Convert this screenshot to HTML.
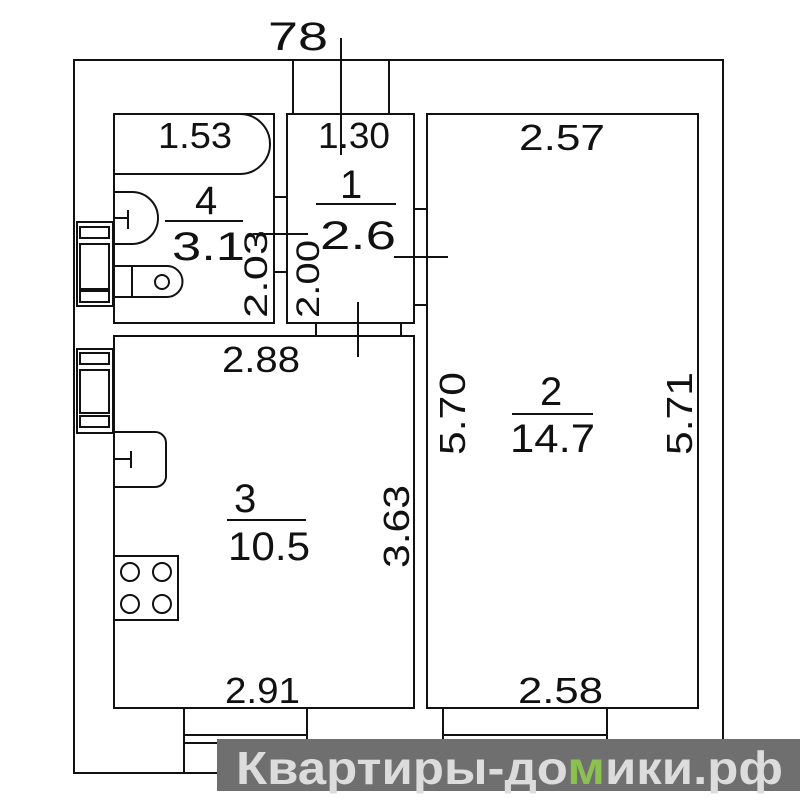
<!DOCTYPE html>
<html><head><meta charset="utf-8"><style>body{margin:0;background:#fff}svg{display:block}</style></head>
<body>
<svg width="800" height="800" xmlns="http://www.w3.org/2000/svg" font-family="Liberation Sans, sans-serif">
<rect width="800" height="800" fill="#fff"/>
<g fill="none" stroke="#111" stroke-width="2">
<rect x="74" y="60" width="649" height="713"/>
<rect x="114" y="114" width="160" height="209"/>
<rect x="287" y="114" width="127" height="209"/>
<rect x="427" y="114" width="271" height="594"/>
<rect x="114" y="336" width="300" height="372"/>
<line x1="293" y1="60" x2="293" y2="114"/><line x1="389" y1="60" x2="389" y2="114"/>
<line x1="341" y1="38" x2="341" y2="155"/>
<line x1="274" y1="197" x2="287" y2="197"/><line x1="274" y1="272" x2="287" y2="272"/>
<line x1="253" y1="234" x2="308" y2="234"/>
<line x1="414" y1="209" x2="427" y2="209"/><line x1="414" y1="305" x2="427" y2="305"/>
<line x1="394" y1="257" x2="448" y2="257"/>
<line x1="316" y1="323" x2="316" y2="336"/><line x1="401" y1="323" x2="401" y2="336"/>
<line x1="358" y1="302" x2="358" y2="357"/>
<path d="M114 174 H240 A30 30 0 0 0 240 114"/>
<path d="M114 192 H132 A26 26 0 0 1 132 244 H114"/><line x1="115" y1="218" x2="128" y2="218"/><line x1="128" y1="210" x2="128" y2="229"/>
<path d="M114 266 H167 A14 14 0 0 1 167 297 H114"/><line x1="132" y1="266" x2="132" y2="297"/><circle cx="162" cy="282" r="7"/>
<rect x="77" y="222" width="36" height="84"/><rect x="80" y="227" width="29" height="11"/><rect x="80" y="244" width="29" height="45"/><rect x="80" y="291" width="29" height="11"/>
<rect x="77" y="349" width="36" height="84"/><rect x="80" y="353" width="29" height="11"/><rect x="80" y="370" width="29" height="43"/><rect x="80" y="416" width="29" height="11"/>
<path d="M114 432 H155 A11 11 0 0 1 166 443 V475 A11 11 0 0 1 155 487 H114"/><line x1="115" y1="459" x2="131" y2="459"/><line x1="131" y1="451" x2="131" y2="468"/>
<rect x="114" y="556" width="64" height="64"/>
<circle cx="130" cy="572" r="9"/><circle cx="162" cy="572" r="9"/><circle cx="130" cy="604" r="9"/><circle cx="162" cy="604" r="9"/>
<rect x="184" y="708" width="123" height="65"/><line x1="184" y1="735" x2="307" y2="735"/><line x1="184" y1="743" x2="307" y2="743"/>
<rect x="443" y="708" width="164" height="65"/><line x1="443" y1="735" x2="607" y2="735"/><line x1="443" y1="743" x2="607" y2="743"/>
<line x1="165" y1="221" x2="243" y2="221"/><line x1="316" y1="204" x2="396" y2="204"/>
<line x1="227" y1="520" x2="306" y2="520"/><line x1="512" y1="414" x2="593" y2="414"/>
</g>
<g fill="#111" font-size="36" lengthAdjust="spacingAndGlyphs">
<text x="268" y="50" font-size="40" textLength="60" lengthAdjust="spacingAndGlyphs">78</text>
<text x="158" y="148" textLength="74" lengthAdjust="spacingAndGlyphs">1.53</text>
<text x="318" y="148" textLength="72" lengthAdjust="spacingAndGlyphs">1.30</text>
<text x="519" y="150" textLength="86" lengthAdjust="spacingAndGlyphs">2.57</text>
<text x="195" y="214" font-size="40">4</text><text x="172" y="260" font-size="40" textLength="73" lengthAdjust="spacingAndGlyphs">3.1</text>
<text x="340" y="198" font-size="40">1</text><text x="320" y="249" font-size="40" textLength="76" lengthAdjust="spacingAndGlyphs">2.6</text>
<text x="222" y="372" textLength="78" lengthAdjust="spacingAndGlyphs">2.88</text>
<text x="234" y="512" font-size="40">3</text><text x="228" y="560" font-size="40" textLength="82" lengthAdjust="spacingAndGlyphs">10.5</text>
<text x="540" y="405" font-size="40">2</text><text x="510" y="452" font-size="40" textLength="85" lengthAdjust="spacingAndGlyphs">14.7</text>
<text x="225" y="703" textLength="75" lengthAdjust="spacingAndGlyphs">2.91</text>
<text x="518" y="703" textLength="85" lengthAdjust="spacingAndGlyphs">2.58</text>
<text transform="translate(267,318) rotate(-90)" font-size="32" textLength="88" lengthAdjust="spacingAndGlyphs">2.03</text>
<text transform="translate(319,318) rotate(-90)" font-size="32" textLength="78" lengthAdjust="spacingAndGlyphs">2.00</text>
<text transform="translate(465,455) rotate(-90)" textLength="83" lengthAdjust="spacingAndGlyphs">5.70</text>
<text transform="translate(692,455) rotate(-90)" textLength="83" lengthAdjust="spacingAndGlyphs">5.71</text>
<text transform="translate(409,568) rotate(-90)" textLength="83" lengthAdjust="spacingAndGlyphs">3.63</text>
</g>
<rect x="217" y="739" width="583" height="52" fill="#6f6f6f"/>
<text x="236" y="784" font-size="46" font-weight="bold" fill="#dcdcdc" textLength="547" lengthAdjust="spacingAndGlyphs">Квартиры-до<tspan fill="#8cc152">м</tspan>ики.рф</text>
</svg>
</body></html>
